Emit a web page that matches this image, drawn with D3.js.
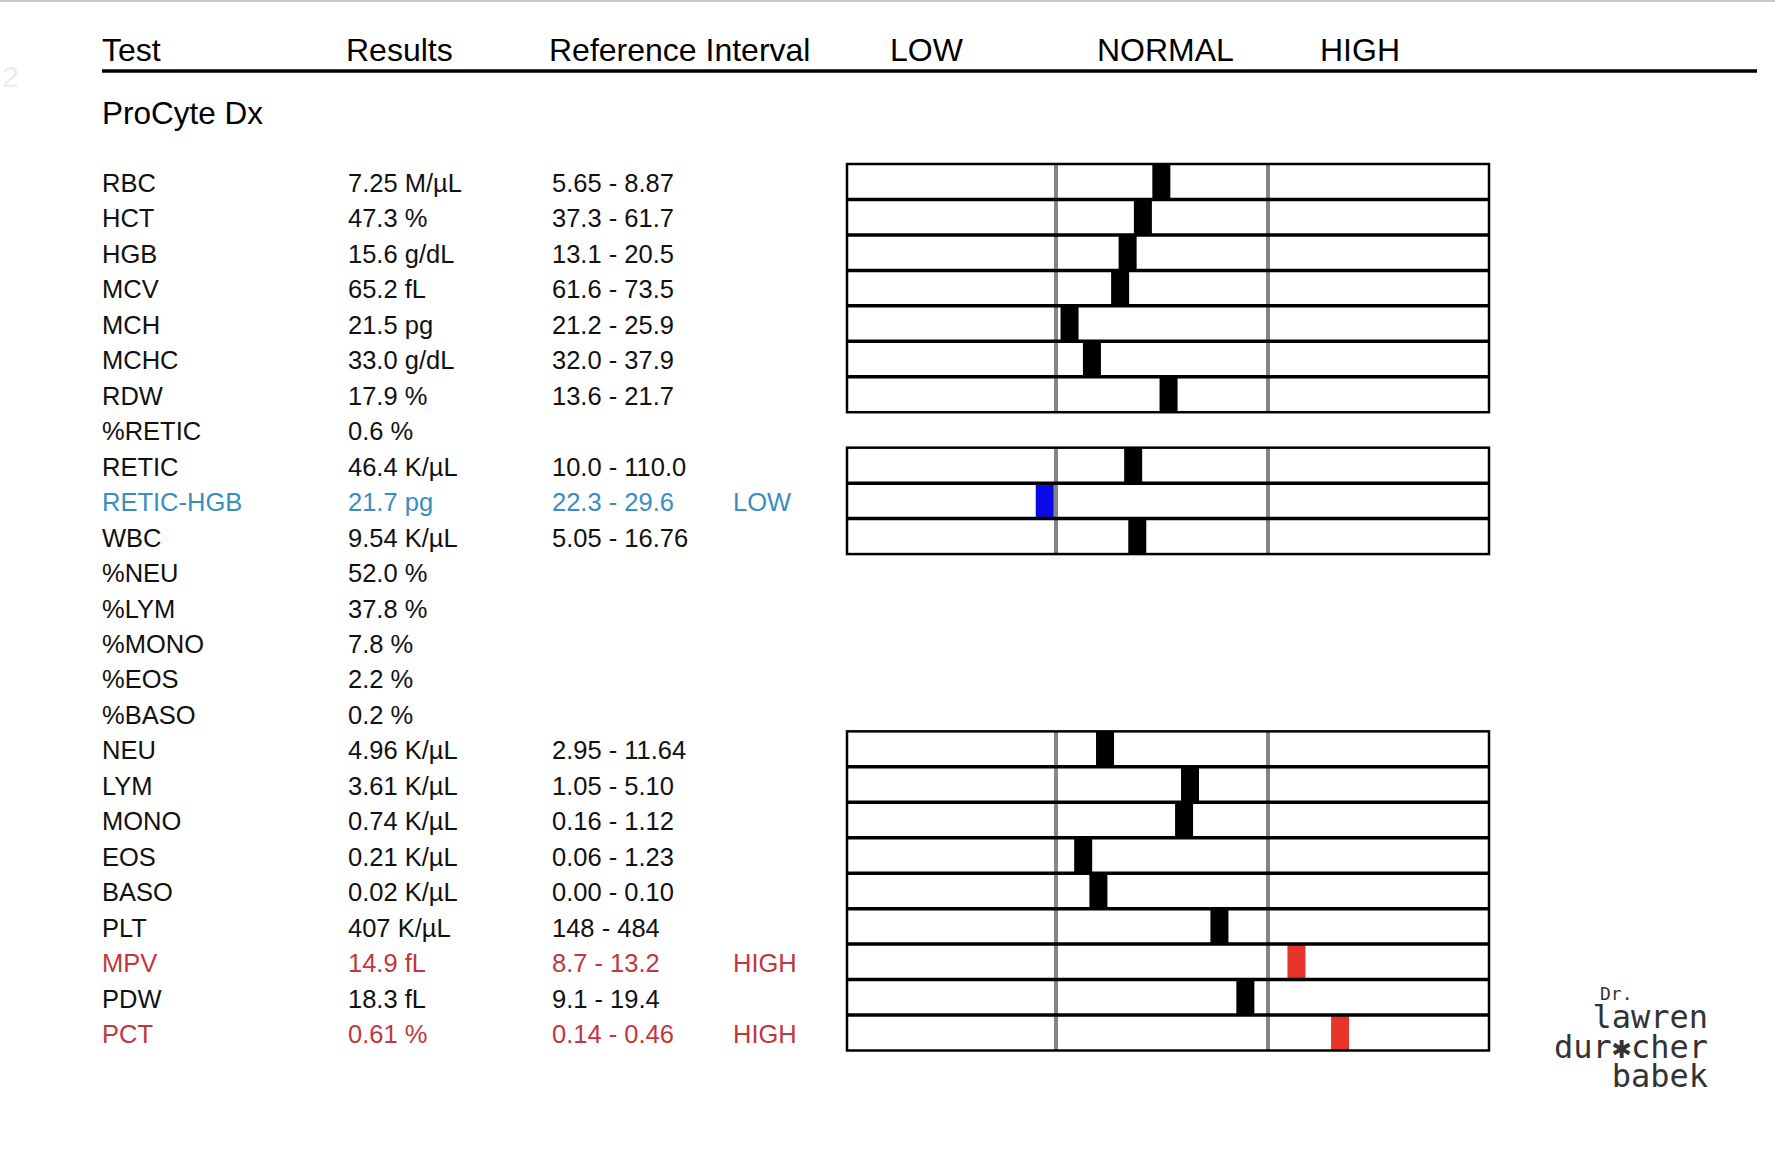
<!DOCTYPE html>
<html>
<head>
<meta charset="utf-8">
<script src="https://cdn.jsdelivr.net/npm/d3@7"></script>
<style>
  body { margin: 0; background: #fff; }
  text { font-family: "Liberation Sans", Arial, sans-serif; }
</style>
</head>
<body>
<div class="chart"></div>
<script>
// values
var tests = ["RBC", "HCT", "HGB", "MCV", "MCH", "MCHC", "RDW", "%RETIC", "RETIC", "RETIC-HGB",
  "WBC", "%NEU", "%LYM", "%MONO", "%EOS", "%BASO", "NEU", "LYM", "MONO", "EOS", "BASO",
  "PLT", "MPV", "PDW", "PCT"];
var results = ["7.25 M/µL", "47.3 %", "15.6 g/dL", "65.2 fL", "21.5 pg", "33.0 g/dL", "17.9 %",
  "0.6 %", "46.4 K/µL", "21.7 pg", "9.54 K/µL", "52.0 %", "37.8 %", "7.8 %", "2.2 %", "0.2 %",
  "4.96 K/µL", "3.61 K/µL", "0.74 K/µL", "0.21 K/µL", "0.02 K/µL", "407 K/µL", "14.9 fL",
  "18.3 fL", "0.61 %"];
var values = [7.25, 47.3, 15.6, 65.2, 21.5, 33.0, 17.9, 0.6, 46.4, 21.7, 9.54, 52.0, 37.8, 7.8,
  2.2, 0.2, 4.96, 3.61, 0.74, 0.21, 0.02, 407, 14.9, 18.3, 0.61];
var refLow = [5.65, 37.3, 13.1, 61.6, 21.2, 32.0, 13.6, null, 10.0, 22.3, 5.05, null, null, null,
  null, null, 2.95, 1.05, 0.16, 0.06, 0.00, 148, 8.7, 9.1, 0.14];
var refHigh = [8.87, 61.7, 20.5, 73.5, 25.9, 37.9, 21.7, null, 110.0, 29.6, 16.76, null, null, null,
  null, null, 11.64, 5.10, 1.12, 1.23, 0.10, 484, 13.2, 19.4, 0.46];
var refText = ["5.65 - 8.87", "37.3 - 61.7", "13.1 - 20.5", "61.6 - 73.5", "21.2 - 25.9",
  "32.0 - 37.9", "13.6 - 21.7", "", "10.0 - 110.0", "22.3 - 29.6", "5.05 - 16.76", "", "", "",
  "", "", "2.95 - 11.64", "1.05 - 5.10", "0.16 - 1.12", "0.06 - 1.23", "0.00 - 0.10",
  "148 - 484", "8.7 - 13.2", "9.1 - 19.4", "0.14 - 0.46"];
var flags = ["", "", "", "", "", "", "", "", "", "LOW", "", "", "", "", "", "", "", "", "", "",
  "", "", "HIGH", "", "HIGH"];
// runs of rows that get a range bar
var barGroups = [["RBC", "RDW"], ["RETIC", "WBC"], ["NEU", "PCT"]];
var headers = ["Test", "Results", "Reference Interval", "LOW", "NORMAL", "HIGH"];

var width = 1775, height = 1158;
var textColor = { "": "#111", LOW: "#3a8dc1", HIGH: "#c2373c" };
var markColor = { "": "#000", LOW: "#0a0ae6", HIGH: "#e8352b" };

var svg = d3.select('.chart')
  .append('svg')
  .attr('width', width)
  .attr('height', height);

// scan remnants at the edge of the page
svg.append('line')
  .attr('x1', 0).attr('x2', width).attr('y1', 1).attr('y2', 1)
  .style('stroke', '#c8c8c8').style('stroke-width', 2);
svg.append('text')
  .attr('x', 2).attr('y', 87)
  .style('font-size', '30px').style('fill', '#ececec')
  .text('2');

// header
var headerX = d3.scaleOrdinal().domain(headers).range([102, 346, 549, 890, 1097, 1320]);
svg.selectAll('.header')
  .data(headers)
  .enter().append('text')
  .attr('class', 'header')
  .attr('x', d => headerX(d))
  .attr('y', 61)
  .style('font-size', '32px')
  .style('fill', '#000')
  .text(d => d);
svg.append('line')
  .attr('x1', 102).attr('x2', 1757).attr('y1', 71).attr('y2', 71)
  .style('stroke', '#000').style('stroke-width', 3.5);

svg.append('text')
  .attr('x', 102).attr('y', 124)
  .style('font-size', '31.5px')
  .text('ProCyte Dx');

// rows
var y = d3.scaleBand()
  .domain(tests)
  .range([164, 164 + tests.length * 35.46]);
var baseline = d => y(d) + 28;

var rows = tests.map((t, i) => ({
  test: t, result: results[i], value: values[i], lo: refLow[i], hi: refHigh[i],
  ref: refText[i], flag: flags[i]
}));

var colX = [102, 348, 552, 733];
var cols = ["test", "result", "ref", "flag"];
cols.forEach(function (c, ci) {
  svg.selectAll('.col-' + c)
    .data(rows)
    .enter().append('text')
    .attr('class', 'col-' + c)
    .attr('x', colX[ci])
    .attr('y', d => baseline(d.test))
    .style('font-size', '25.5px')
    .style('fill', d => textColor[d.flag])
    .text(d => d[c]);
});

// range bars: low zone, normal zone, high zone
var zoneX = [847, 1056, 1268, 1489];
var markW = 18;

barGroups.forEach(function (g) {
  var i0 = tests.indexOf(g[0]), i1 = tests.indexOf(g[1]);
  var grp = rows.slice(i0, i1 + 1);
  var top = y(g[0]), bottom = y(g[1]) + y.bandwidth();
  var layer = svg.append('g');

  layer.append('rect')
    .attr('x', zoneX[0]).attr('y', top)
    .attr('width', zoneX[3] - zoneX[0]).attr('height', bottom - top)
    .style('fill', '#fff');

  layer.selectAll('.zone')
    .data([zoneX[1], zoneX[2]])
    .enter().append('line')
    .attr('x1', d => d).attr('x2', d => d)
    .attr('y1', top).attr('y2', bottom)
    .style('stroke', '#858585').style('stroke-width', 4);

  layer.selectAll('.mark')
    .data(grp)
    .enter().append('rect')
    .attr('x', function (d) {
      var x = d3.scaleLinear()
        .domain([d.lo / 2, d.lo, d.hi, d.hi * 2])
        .range(zoneX)
        .clamp(true);
      return x(d.value) - markW / 2;
    })
    .attr('y', d => y(d.test))
    .attr('width', markW)
    .attr('height', y.bandwidth())
    .style('fill', d => markColor[d.flag]);

  layer.selectAll('.sep')
    .data(grp.slice(1))
    .enter().append('line')
    .attr('x1', zoneX[0]).attr('x2', zoneX[3])
    .attr('y1', d => y(d.test)).attr('y2', d => y(d.test))
    .style('stroke', '#000').style('stroke-width', 3.5);

  layer.append('rect')
    .attr('x', zoneX[0]).attr('y', top)
    .attr('width', zoneX[3] - zoneX[0]).attr('height', bottom - top)
    .style('fill', 'none')
    .style('stroke', '#000').style('stroke-width', 2.5);
});

// signature
var logo = svg.append('g')
  .style('fill', '#333');
logo.append('text')
  .attr('x', 1600).attr('y', 1000)
  .style('font-family', '"DejaVu Sans Mono", monospace')
  .style('font-size', '18px')
  .text('Dr.');
var sigLines = ["lawren", "dur\u2731cher", "babek"];
var sigY = [1028, 1058, 1087];
logo.selectAll('.sig')
  .data(sigLines)
  .enter().append('text')
  .attr('class', 'sig')
  .attr('x', 1708)
  .attr('y', (d, i) => sigY[i])
  .attr('text-anchor', 'end')
  .style('font-family', '"DejaVu Sans Mono", monospace')
  .style('font-size', '32px')
  .text(d => d);
</script>
</body>
</html>
